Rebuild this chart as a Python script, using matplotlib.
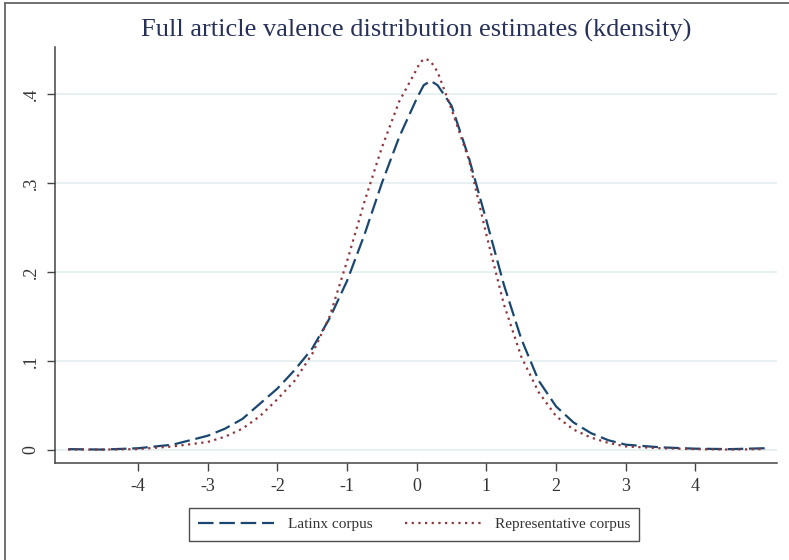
import matplotlib
matplotlib.use("Agg")
import matplotlib.pyplot as plt
from matplotlib.lines import Line2D

# valence grid and kernel density estimates
x_latinx = [-5.0, -4.5, -4.0, -3.5, -3.0, -2.75, -2.5, -2.25, -2.0, -1.75, -1.5,
            -1.25, -1.0, -0.75, -0.5, -0.25, 0.0, 0.1, 0.2, 0.3, 0.5, 0.75, 1.0,
            1.25, 1.5, 1.75, 2.0, 2.25, 2.5, 2.75, 3.0, 3.5, 4.0, 4.5, 5.0]
y_latinx = [0.001, 0.0005, 0.002, 0.006, 0.016, 0.024, 0.035, 0.052, 0.069, 0.09,
            0.114, 0.148, 0.19, 0.242, 0.30, 0.352, 0.395, 0.410, 0.415, 0.410,
            0.387, 0.328, 0.258, 0.186, 0.125, 0.078, 0.049, 0.031, 0.019, 0.011,
            0.006, 0.003, 0.0015, 0.001, 0.002]

x_repr = [-5.0, -4.5, -4.0, -3.5, -3.0, -2.75, -2.5, -2.25, -2.0, -1.75, -1.5,
          -1.25, -1.0, -0.75, -0.5, -0.25, 0.0, 0.05, 0.12, 0.2, 0.3, 0.5, 0.75,
          1.0, 1.25, 1.5, 1.75, 2.0, 2.25, 2.5, 2.75, 3.0, 3.5, 4.0, 4.5, 5.0]
y_repr = [0.0005, 0.0005, 0.001, 0.004, 0.009, 0.015, 0.024, 0.038, 0.057, 0.078,
          0.108, 0.15, 0.212, 0.279, 0.34, 0.392, 0.428, 0.436, 0.440, 0.437,
          0.425, 0.383, 0.326, 0.242, 0.164, 0.105, 0.065, 0.038, 0.023, 0.014,
          0.008, 0.004, 0.002, 0.001, 0.0005, 0.001]

xticks = [-4, -3, -2, -1, 0, 1, 2, 3, 4]
yticks = [0, 0.1, 0.2, 0.3, 0.4]
ytick_labels = ["0", ".1", ".2", ".3", ".4"]

serif = ["Liberation Serif", "DejaVu Serif"]
plt.rcParams["font.family"] = serif

fig = plt.figure(figsize=(7.89, 5.60), dpi=100)
ax = fig.add_axes([55 / 789, 97 / 560, 722 / 789, 416 / 560])

for t in yticks:
    ax.axhline(t, color="#e8f1f2", lw=1.4, zorder=0)

ax.plot(x_latinx, y_latinx, color="#1a476f", lw=1.6,
        dashes=(7, 2.6), label="Latinx corpus")
ax.plot(x_repr, y_repr, color="#90353b", lw=1.6,
        linestyle=(0, (1, 2)), label="Representative corpus")

ax.set_xlim(-5.19, 5.17)
ax.set_ylim(-0.0146, 0.453)
ax.set_xticks(xticks)
ax.set_xticklabels([str(v) for v in xticks])
ax.set_yticks(yticks)
ax.set_yticklabels(ytick_labels, rotation=90, va="center")

for side in ["top", "right"]:
    ax.spines[side].set_visible(False)
for side in ["left", "bottom"]:
    ax.spines[side].set_color("#444444")
    ax.spines[side].set_linewidth(1.1)
ax.tick_params(direction="out", length=6, width=1.0, color="#444444",
               labelsize=13, labelcolor="#333333", pad=5)

fig.text(416 / 789, 1 - 30 / 560, "Full article valence distribution estimates (kdensity)",
         ha="center", va="center", fontsize=19, color="#26315a")

fig.legend(loc="center", bbox_to_anchor=(414 / 789, 1 - 524.5 / 560), ncol=2,
           frameon=True, fancybox=False, edgecolor="#222222", fontsize=11,
           handlelength=5.0, handletextpad=0.9, columnspacing=2.1,
           borderpad=0.6, borderaxespad=0, labelcolor="#333333")

# partial outer frame (top and left edges)
fig.add_artist(Line2D([4.5 / 789, 4.5 / 789], [0, 1 - 2.5 / 560],
                      transform=fig.transFigure, color="#666666", lw=1.3))
fig.add_artist(Line2D([4.5 / 789, 1], [1 - 2.5 / 560, 1 - 2.5 / 560],
                      transform=fig.transFigure, color="#666666", lw=1.3))

fig.savefig("out.png", dpi=100)
